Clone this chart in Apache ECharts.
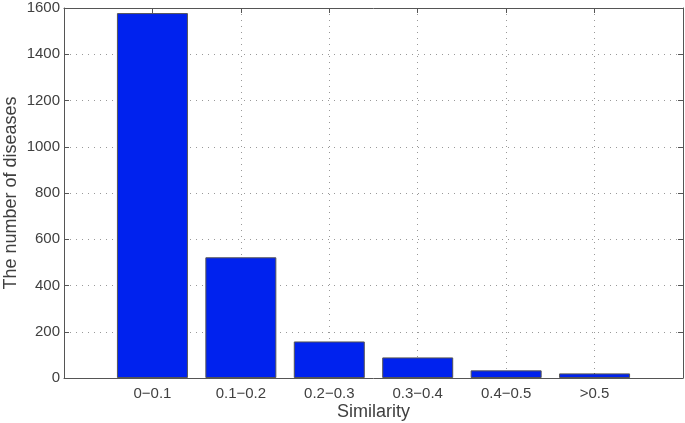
<!DOCTYPE html>
<html>
<head>
<meta charset="utf-8">
<script src="https://cdn.jsdelivr.net/npm/echarts@6/dist/echarts.min.js"></script>
<style>
  html, body { margin: 0; padding: 0; background: #fff; }
  #chart { width: 685px; height: 423px; }
</style>
</head>
<body>
<div id="chart"></div>
<script>
const categories = ['0\u22120.1', '0.1\u22120.2', '0.2\u22120.3', '0.3\u22120.4', '0.4\u22120.5', '>0.5']
const counts = [1578, 522, 158, 89, 33, 20]
const yTicks = [0, 200, 400, 600, 800, 1000, 1200, 1400, 1600]

const textColor = '#404040'
const font = 'Liberation Sans, Arial, sans-serif'

const chart = echarts.init(document.getElementById('chart'))

// bars sit at 1..6 on a 0..7 value axis, like the MATLAB bar plot
const barData = counts.map((v, i) => [i + 1, v])

const frameAxis = {
  type: 'value',
  axisLine: { show: true, onZero: false, lineStyle: { color: '#555', width: 1 } },
  axisTick: { show: true, inside: true, length: 5, lineStyle: { color: '#555' } },
  axisLabel: { show: false },
  splitLine: { show: false }
}

chart.setOption({
  animation: false,
  grid: { left: 64, right: 2, top: 8, bottom: 45, outerBoundsMode: 'none', containLabel: false },
  xAxis: [{
    type: 'value',
    min: 0,
    max: categories.length + 1,
    interval: 1,
    name: 'Similarity',
    nameLocation: 'middle',
    nameGap: 25,
    nameMoveOverlap: false,
    nameTextStyle: { color: textColor, fontSize: 18, fontFamily: font },
    axisLine: { show: true, onZero: false, lineStyle: { color: '#555', width: 1 } },
    axisTick: { show: true, inside: true, length: 5, lineStyle: { color: '#555' } },
    axisLabel: {
      color: textColor,
      fontSize: 15,
      fontFamily: font,
      margin: 8,
      showMinLabel: false,
      showMaxLabel: false,
      formatter: v => categories[v - 1] || ''
    },
    splitLine: { show: true, lineStyle: { color: '#999', type: [1, 5], width: 1 } }
  }, Object.assign({}, frameAxis, {
    position: 'top',
    min: 0,
    max: categories.length + 1,
    interval: 1
  })],
  yAxis: [{
    type: 'value',
    min: yTicks[0],
    max: yTicks[yTicks.length - 1],
    interval: 200,
    name: 'The number of diseases',
    nameLocation: 'middle',
    nameGap: 44,
    nameMoveOverlap: false,
    nameTextStyle: { color: textColor, fontSize: 18, fontFamily: font },
    axisLine: { show: true, onZero: false, lineStyle: { color: '#555', width: 1 } },
    axisTick: { show: true, inside: true, length: 5, lineStyle: { color: '#555' } },
    axisLabel: { color: textColor, fontSize: 15, fontFamily: font, margin: 4, formatter: v => String(v) },
    splitLine: { show: true, lineStyle: { color: '#999', type: [1, 5], width: 1 } }
  }, Object.assign({}, frameAxis, {
    position: 'right',
    min: yTicks[0],
    max: yTicks[yTicks.length - 1],
    interval: 200
  })],
  series: [{
    type: 'bar',
    data: barData,
    barWidth: 71,
    itemStyle: { color: '#0022ee', borderColor: '#555', borderWidth: 1 }
  }]
})
</script>
</body>
</html>
